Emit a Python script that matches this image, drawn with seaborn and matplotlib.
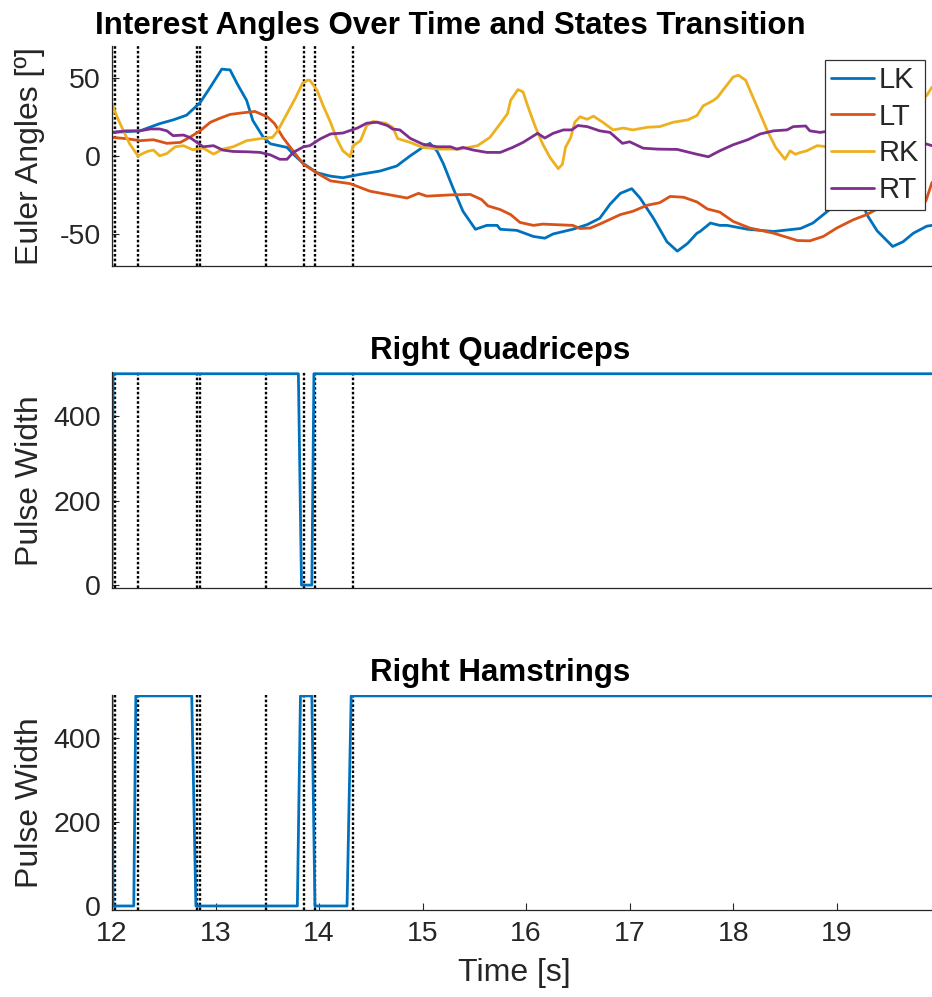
import matplotlib
matplotlib.use("Agg")
import matplotlib.pyplot as plt
import seaborn as sns

# === data ===
lk_t = [12.00, 12.27, 12.46, 12.59, 12.72, 12.85, 12.95, 13.06, 13.14, 13.21, 13.30, 13.36, 13.46, 13.53,
        13.69, 13.75, 13.85, 13.98, 14.11, 14.23, 14.40, 14.59, 14.75, 14.88, 15.00, 15.07, 15.14, 15.20,
        15.29, 15.39, 15.51, 15.62, 15.72, 15.75, 15.91, 16.07, 16.18, 16.26, 16.45, 16.59, 16.71, 16.81,
        16.91, 17.02, 17.10, 17.23, 17.36, 17.46, 17.56, 17.65, 17.68, 17.78, 17.87, 17.94, 18.14, 18.39,
        18.65, 18.77, 18.91, 19.08, 19.26, 19.29, 19.39, 19.54, 19.64, 19.74, 19.87, 19.92]
lk_v = [15, 16, 20.6, 23, 26, 34, 44, 55.5, 55, 46, 35.5, 22.6, 12, 7.7,
        5.4, 1.1, -5, -10.8, -13, -14, -11.8, -9.7, -6.5, 0, 5.4, 8, 3, -5,
        -20, -35.5, -47, -44.5, -44.5, -47, -47.7, -51.6, -52.7, -50, -47, -44, -40, -31,
        -24, -21, -27, -40, -55, -61, -56, -49.5, -48.4, -43, -44.5, -44.5, -47, -48.4,
        -46.5, -43, -35.5, -27, -32, -37.5, -48, -58, -55, -49.5, -45, -44.5]

lt_t = [12.00, 12.14, 12.27, 12.40, 12.53, 12.66, 12.75, 12.85, 12.95, 13.04, 13.14, 13.27, 13.38, 13.50,
        13.57, 13.65, 13.75, 13.85, 13.98, 14.11, 14.30, 14.49, 14.66, 14.85, 14.96, 15.04, 15.27, 15.46,
        15.57, 15.63, 15.75, 15.85, 15.94, 16.07, 16.16, 16.45, 16.52, 16.62, 16.71, 16.91, 17.03, 17.17,
        17.29, 17.39, 17.52, 17.65, 17.75, 17.87, 18.00, 18.16, 18.39, 18.62, 18.74, 18.87, 19.00, 19.16,
        19.29, 19.42, 19.64, 19.86, 19.92]
lt_v = [11.8, 11, 9.7, 10.3, 8, 8.6, 11.8, 16, 21.5, 24, 26.5, 27.6, 28.4, 25,
        20.6, 11.8, 3, -5.4, -11, -16, -17.8, -22.6, -24.7, -27, -24, -25.8, -25, -24.7,
        -28, -32, -34.4, -37.6, -42.6, -44.5, -43.7, -44.5, -46.5, -46.2, -43.7, -37.6, -35.5, -31.6,
        -30, -26, -26.5, -29.5, -34, -36, -42, -46.2, -49.5, -54.2, -54.4, -51.6, -46.2, -40.9,
        -37.6, -33, -31, -29, -17]

rk_t = [12.00, 12.05, 12.11, 12.17, 12.25, 12.34, 12.40, 12.46, 12.53, 12.61,
        12.69, 12.78, 12.88, 12.98, 13.07, 13.17, 13.30, 13.43, 13.55, 13.60,
        13.69, 13.77, 13.84, 13.89, 13.91, 13.98, 14.04, 14.11, 14.17, 14.23,
        14.30, 14.33, 14.40, 14.46, 14.52, 14.64, 14.71, 14.76, 14.88, 15.00,
        15.17, 15.36, 15.53, 15.65, 15.75, 15.82, 15.85, 15.92, 15.97, 16.02,
        16.09, 16.16, 16.23, 16.31, 16.35, 16.38, 16.43, 16.47, 16.52, 16.59,
        16.65, 16.74, 16.84, 16.94, 17.03, 17.17, 17.29, 17.42, 17.56, 17.65,
        17.71, 17.81, 17.85, 17.90, 18.00, 18.05, 18.12, 18.19, 18.26, 18.33,
        18.41, 18.50, 18.55, 18.60, 18.65, 18.71, 18.81, 18.91, 19.13, 19.42,
        19.66, 19.81, 19.87, 19.92]
rk_v = [33.5, 24.7, 16, 7.7, 0, 2.8, 3.7, 0, 1.5, 5.8,
        6.5, 3.9, 5, 1.1, 4.3, 5.8, 9.7, 11, 11.8, 16,
        27, 36.8, 46.4, 48.4, 48.4, 42, 32, 21.5, 11, 3.2,
        -0.6, 6.5, 9.7, 19.4, 22, 20.9, 18.3, 11, 8.6, 5.4,
        4.3, 4.3, 6.5, 11.8, 20.6, 27, 35.5, 42.4, 40.9, 31,
        18.3, 7.5, -1, -8.2, -5.4, 5.4, 11.6, 21.5, 25, 23.4,
        25.4, 21.5, 16.6, 17.8, 16.6, 18.3, 18.7, 21.5, 23, 25.8,
        32, 35.5, 37.6, 42, 50.5, 51.6, 48.4, 37.6, 26.9, 16,
        5.4, -2.2, 3.2, 1, 2.2, 3.2, 6.5, 5.8, 8, 14,
        28, 36, 38.7, 44]

rt_t = [12.00, 12.14, 12.27, 12.37, 12.46, 12.53, 12.59, 12.69, 12.75, 12.82,
        12.88, 12.98, 13.07, 13.17, 13.30, 13.43, 13.53, 13.62, 13.69, 13.75,
        13.85, 13.91, 14.01, 14.11, 14.23, 14.37, 14.46, 14.56, 14.66, 14.71,
        14.78, 14.88, 15.00, 15.14, 15.27, 15.33, 15.39, 15.49, 15.62, 15.75,
        15.87, 15.97, 16.11, 16.18, 16.26, 16.36, 16.44, 16.50, 16.59, 16.71,
        16.81, 16.93, 17.00, 17.13, 17.27, 17.46, 17.65, 17.76, 17.87, 18.00,
        18.14, 18.26, 18.39, 18.52, 18.58, 18.70, 18.74, 18.84, 18.91, 19.13,
        19.42, 19.66, 19.87, 19.92]
rt_v = [15, 16, 16, 17.2, 17.2, 16, 12.9, 13.3, 11.8, 8.6,
        5.8, 6.5, 3.7, 2.8, 2.6, 2.2, 0.6, -2.2, -2.2, 2.2,
        5.8, 6.5, 10.8, 14, 14.6, 17.8, 20.9, 21.5, 19.4, 17.2,
        16.6, 11.2, 7.5, 5.8, 5.8, 4.3, 5.4, 3.7, 2.2, 2.2,
        5.4, 8.6, 14.4, 11.4, 14.4, 16.6, 16.6, 19.4, 18.7, 16,
        15, 8, 9, 4.9, 4.3, 4.1, 1, -0.6, 3.2, 7.1,
        10.3, 14, 16, 16.6, 18.7, 19.1, 16, 15, 15.7, 14,
        12, 10, 7.5, 6.5]

quad_t = [12.00, 12.01, 13.80, 13.83, 13.93, 13.95, 19.92]
quad_v = [0, 500, 500, 0, 0, 500, 500]

ham_t = [12.00, 12.01, 12.21, 12.23, 12.77, 12.81, 13.79, 13.82, 13.93, 13.96, 14.27, 14.31, 19.92]
ham_v = [500, 0, 0, 500, 500, 0, 0, 500, 500, 0, 0, 500, 500]

state_times = [12.00, 12.03, 12.25, 12.82, 12.85, 13.49, 13.85, 13.96, 14.33]

angle_names = ["LK", "LT", "RK", "RT"]
colors = ["#0072BD", "#D95319", "#EDB120", "#7E2F8E"]
x_ticks = [12, 13, 14, 15, 16, 17, 18, 19]

# === style ===
sns.set_theme(style="white")
plt.rcParams['font.family'] = ['Liberation Sans', 'DejaVu Sans']
plt.rcParams['axes.unicode_minus'] = False

TXT = "#262626"
TICK_FS = 20.5
LABEL_FS = 23
TITLE_FS = 22.5

fig = plt.figure(figsize=(9.32, 9.97), dpi=100)
ax1 = fig.add_axes([0.1202, 0.7332, 0.8798, 0.2202])
ax2 = fig.add_axes([0.1202, 0.4102, 0.8798, 0.2162])
ax3 = fig.add_axes([0.1202, 0.0873, 0.8798, 0.2160])

for ax in (ax1, ax2, ax3):
    for t in state_times:
        ax.axvline(t, color="black", ls=(0, (1.1, 0.9)), lw=1.7, zorder=1)
    ax.set_xlim(12, 19.92)
    sns.despine(ax=ax)
    for s in ("left", "bottom"):
        ax.spines[s].set_color(TXT)
        ax.spines[s].set_linewidth(0.9)
    ax.tick_params(axis="both", direction="in", length=5, width=0.8, color=TXT,
                   labelcolor=TXT, labelsize=TICK_FS, pad=8, left=True, bottom=True)

# top: euler angles
for tt, vv, name, c in zip([lk_t, lt_t, rk_t, rt_t], [lk_v, lt_v, rk_v, rt_v], angle_names, colors):
    sns.lineplot(x=tt, y=vv, ax=ax1, color=c, lw=2.0, label=name, sort=False,
                 estimator=None, zorder=2)
ax1.set_ylim(-70.5, 70)
ax1.set_yticks([-50, 0, 50])
ax1.set_xticks([])
ax1.set_ylabel("Euler Angles [º]", fontsize=LABEL_FS, color=TXT)
ax1.yaxis.set_label_coords(-0.082, 0.5)
ax1.set_title("Interest Angles Over Time and States Transition", fontsize=TITLE_FS,
              fontweight="bold", color="black", x=0.413, pad=9)
leg = ax1.legend(loc="upper right", bbox_to_anchor=(0.9915, 0.9385), borderaxespad=0,
                 fontsize=21, frameon=True, fancybox=False, framealpha=1,
                 edgecolor="#333333", handlelength=1.48, handletextpad=0.17,
                 borderpad=0.2, labelspacing=0.3)
leg.get_frame().set_linewidth(0.9)
for line in leg.get_lines():
    line.set_linewidth(2.0)

# middle: right quadriceps
sns.lineplot(x=quad_t, y=quad_v, ax=ax2, color=colors[0], lw=2.0, sort=False,
             estimator=None, zorder=2)
ax2.set_ylim(-7, 503)
ax2.set_yticks([0, 200, 400])
ax2.set_xticks([])
ax2.set_ylabel("Pulse Width", fontsize=LABEL_FS, color=TXT)
ax2.yaxis.set_label_coords(-0.082, 0.5)
ax2.set_title("Right Quadriceps", fontsize=TITLE_FS, fontweight="bold", color="black",
              x=0.473, pad=10)

# bottom: right hamstrings
sns.lineplot(x=ham_t, y=ham_v, ax=ax3, color=colors[0], lw=2.0, sort=False,
             estimator=None, zorder=2)
ax3.set_ylim(-9.5, 503)
ax3.set_yticks([0, 200, 400])
ax3.set_xticks(x_ticks)
ax3.set_ylabel("Pulse Width", fontsize=LABEL_FS, color=TXT)
ax3.yaxis.set_label_coords(-0.082, 0.5)
ax3.set_xlabel("Time [s]", fontsize=LABEL_FS, color=TXT)
ax3.xaxis.set_label_coords(0.491, -0.225)
ax3.set_title("Right Hamstrings", fontsize=TITLE_FS, fontweight="bold", color="black",
              x=0.473, pad=10)

fig.savefig("out.png", dpi=100)
